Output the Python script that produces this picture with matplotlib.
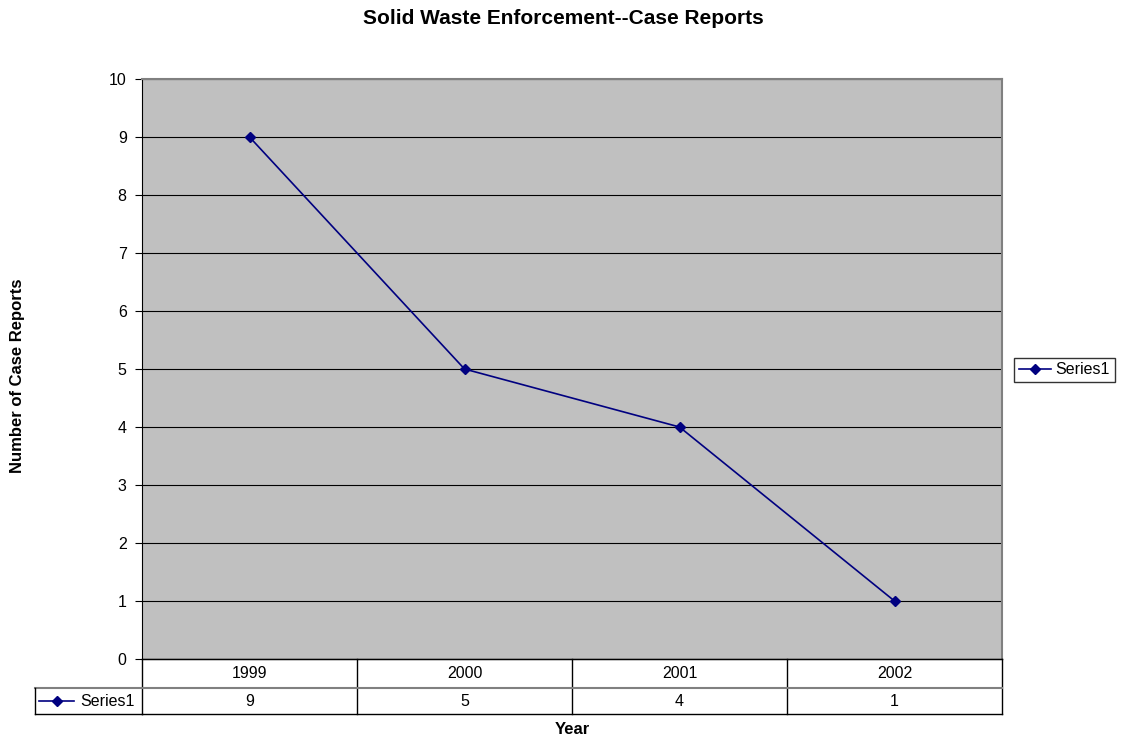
import matplotlib
matplotlib.use("Agg")
import matplotlib.pyplot as plt
from matplotlib.lines import Line2D

plt.rcParams['font.family'] = ['Liberation Sans', 'DejaVu Sans']

years = ["1999", "2000", "2001", "2002"]
case_reports = [9, 5, 4, 1]
series_name = "Series1"

navy = "#000080"
W, H = 1128, 740

fig = plt.figure(figsize=(W / 100, H / 100), dpi=100)

def fbox(x0, y0, x1, y1):
    # pixel box (top-left origin) -> figure fraction rect
    return [x0 / W, (H - y1) / H, (x1 - x0) / W, (y1 - y0) / H]

ax = fig.add_axes(fbox(142, 79, 1002, 659))
ax.set_facecolor("#C0C0C0")
x = list(range(len(years)))
ax.plot(x, case_reports, color=navy, lw=1.2, marker="D", ms=5,
        markerfacecolor=navy, markeredgecolor=navy, zorder=3)
ax.set_xlim(-0.5, len(years) - 0.5)
ax.set_ylim(0, 10)
ax.set_yticks(range(0, 11))
ax.yaxis.grid(True, color="black", lw=0.8)
ax.set_axisbelow(True)
ax.set_xticks([])
ax.tick_params(axis="y", direction="out", length=5, labelsize=11.5, pad=6)
for s in ["top", "right"]:
    ax.spines[s].set_color("#808080")
    ax.spines[s].set_linewidth(1.5)
ax.spines["left"].set_color("black")
ax.spines["bottom"].set_color("black")

fig.text(18 / W, (H - 376) / H, "Number of Case Reports", rotation=90,
         ha="center", va="center", fontsize=12, fontweight="bold")
fig.text(563 / W, (H - 18) / H, "Solid Waste Enforcement--Case Reports",
         ha="center", va="center", fontsize=15, fontweight="bold")

# data table under the plot
tab = fig.add_axes(fbox(142, 659, 1002, 714))
tab.set_xlim(-0.5, len(years) - 0.5)
tab.set_ylim(0, 1)
tab.axis("off")
mid = (714 - 688) / 55
lw = 1.0
for i in range(len(years) + 1):
    tab.plot([i - 0.5, i - 0.5], [0, 1], color="black", lw=lw, clip_on=False)
tab.plot([-0.5, len(years) - 0.5], [1, 1], color="black", lw=lw, clip_on=False)
tab.plot([-0.5, len(years) - 0.5], [0, 0], color="black", lw=lw, clip_on=False)
left_edge = -0.5 - (142 - 35) / 215
tab.plot([left_edge, len(years) - 0.5], [mid, mid], color="#808080", lw=1.5, clip_on=False)
tab.plot([left_edge, left_edge], [0, mid], color="black", lw=lw, clip_on=False)
tab.plot([left_edge, -0.5], [0, 0], color="black", lw=lw, clip_on=False)
for i, (yr, v) in enumerate(zip(years, case_reports)):
    tab.text(i, (1 + mid) / 2, yr, ha="center", va="center", fontsize=11.5)
    tab.text(i, mid / 2, str(v), ha="center", va="center", fontsize=11.5)
kx = left_edge + 0.02
tab.plot([kx, kx + 0.16], [mid / 2, mid / 2], color=navy, lw=1.2, clip_on=False)
tab.plot([kx + 0.08], [mid / 2], marker="D", ms=5, color=navy, clip_on=False)
tab.text(kx + 0.19, mid / 2, series_name, ha="left", va="center", fontsize=11.5)

fig.text(572 / W, (H - 729) / H, "Year", ha="center", va="center",
         fontsize=12, fontweight="bold")

handle = Line2D([], [], color=navy, lw=1.2, marker="D", ms=5)
leg = fig.legend([handle], [series_name], loc="center left",
                 bbox_to_anchor=(1014 / W, (H - 370) / H), fontsize=11.5,
                 frameon=True, fancybox=False, edgecolor="black",
                 handlelength=2.0, borderpad=0.3, handletextpad=0.3,
                 borderaxespad=0)
leg.get_frame().set_linewidth(1.0)

fig.savefig("out.png", dpi=100)
